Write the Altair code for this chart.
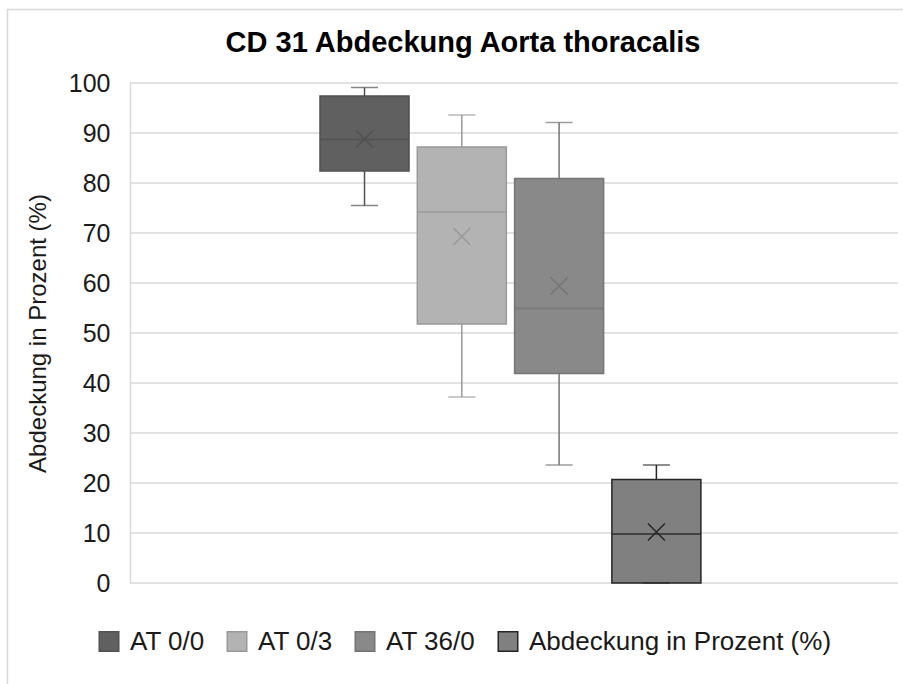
import altair as alt
import pandas as pd

# ---- data ----
title_text = "CD 31 Abdeckung Aorta thoracalis"
series = ["AT 0/0", "AT 0/3", "AT 36/0", "Abdeckung in Prozent (%)"]
whisker_low = [75.5, 37.2, 23.6, 0.0]
q1 = [82.4, 51.8, 41.9, 0.0]
median = [88.7, 74.2, 54.9, 9.8]
q3 = [97.4, 87.2, 80.9, 20.7]
whisker_high = [99.1, 93.6, 92.1, 23.6]
mean = [88.8, 69.3, 59.4, 10.2]
y_ticks = [0, 10, 20, 30, 40, 50, 60, 70, 80, 90, 100]

df = pd.DataFrame({
    "series": series, "lo": whisker_low, "q1": q1, "med": median,
    "q3": q3, "hi": whisker_high, "mean": mean,
})
grid_df = pd.DataFrame({"v": y_ticks})

fills = ["#606060", "#b3b3b3", "#898989", "#808080"]
strokes = ["#505050", "#999999", "#747474", "#262626"]
FONT = "Liberation Sans"

fill_scale = alt.Scale(domain=series, range=fills)
stroke_scale = alt.Scale(domain=series, range=strokes)
x_scale = alt.Scale(domain=series, paddingInner=0.085, paddingOuter=0, range=[190, 570.9])

legend = alt.Legend(
    title=None, orient="none", direction="horizontal", legendX=-34, legendY=545.5,
    symbolType="square", symbolSize=380, symbolStrokeWidth=1.5, padding=0,
    labelFont=FONT, labelFontSize=26, labelColor="#1a1a1a", labelOffset=8,
    columnPadding=19, labelLimit=600,
)

x_enc = alt.X("series:N", sort=series, scale=x_scale, axis=None)
y_axis = alt.Axis(
    values=y_ticks, grid=False,
    domain=True, domainColor="#d9d9d9", domainWidth=1.5, ticks=False,
    labelFont=FONT, labelFontSize=25, labelColor="#1a1a1a", labelPadding=20,
    title="Abdeckung in Prozent (%)", titleFont=FONT, titleFontSize=24,
    titleFontWeight="normal", titleColor="#1a1a1a", titleAngle=270,
    titleX=-85, titleY=250, titleAlign="center", titleBaseline="alphabetic",
)
y_scale = alt.Scale(domain=[0, 100], nice=False)
stroke_nolegend = alt.Stroke("series:N", scale=stroke_scale, legend=None)
color_nolegend = alt.Color("series:N", scale=stroke_scale, legend=None)

base = alt.Chart(df)

grid = alt.Chart(grid_df).mark_rule(color="#d9d9d9", strokeWidth=1.5).encode(
    y=alt.Y("v:Q", scale=y_scale, axis=y_axis),
    x=alt.value(0), x2=alt.value(768),
)

boxes = base.mark_bar(strokeWidth=1.5).encode(
    x=x_enc,
    y=alt.Y("q1:Q", scale=y_scale, axis=y_axis),
    y2="q3:Q",
    fill=alt.Fill("series:N", scale=fill_scale, legend=legend),
    stroke=alt.Stroke("series:N", scale=stroke_scale, legend=legend),
)

whisk_low = base.mark_rule(strokeWidth=1.5).encode(
    x=x_enc, y=alt.Y("lo:Q", scale=y_scale, axis=y_axis), y2="q1:Q", stroke=stroke_nolegend)
whisk_high = base.mark_rule(strokeWidth=1.5).encode(
    x=x_enc, y=alt.Y("q3:Q", scale=y_scale, axis=y_axis), y2="hi:Q", stroke=stroke_nolegend)

cap_low = base.mark_tick(orient="horizontal", size=27, thickness=1.5).encode(
    x=x_enc, y=alt.Y("lo:Q", scale=y_scale, axis=y_axis), color=color_nolegend)
cap_high = base.mark_tick(orient="horizontal", size=27, thickness=1.5).encode(
    x=x_enc, y=alt.Y("hi:Q", scale=y_scale, axis=y_axis), color=color_nolegend)

med_line = base.mark_tick(orient="horizontal", size=89, thickness=2).encode(
    x=x_enc, y=alt.Y("med:Q", scale=y_scale, axis=y_axis), color=color_nolegend)

mean_x = base.mark_point(shape="M-1,-1L1,1M1,-1L-1,1", size=289, filled=False,
                         strokeWidth=1.5, opacity=1).encode(
    x=x_enc, y=alt.Y("mean:Q", scale=y_scale, axis=y_axis), stroke=stroke_nolegend)

frame = alt.Chart(alt.Data(values=[{"f": 1}])).mark_rect(
    filled=False, stroke="#d9d9d9", strokeWidth=1.5).encode(
    x=alt.value(-122.5), x2=alt.value(900), y=alt.value(-73.5), y2=alt.value(700))

title = alt.Chart(alt.Data(values=[{"t": title_text}])).mark_text(
    font=FONT, fontSize=29, fontWeight="bold", color="#000000",
    align="center", baseline="alphabetic").encode(
    text="t:N", x=alt.value(333), y=alt.value(-31))

chart = alt.layer(
    frame, grid, boxes, whisk_low, whisk_high, cap_low, cap_high, med_line, mean_x, title
).properties(
    width=768, height=500,
    padding={"left": 130, "top": 83, "right": 5, "bottom": 101},
    autosize=alt.AutoSizeParams(type="none"),
    background="white",
).configure_view(stroke=None)

chart.save("out.html", embed_options={"renderer": "svg", "actions": False})
